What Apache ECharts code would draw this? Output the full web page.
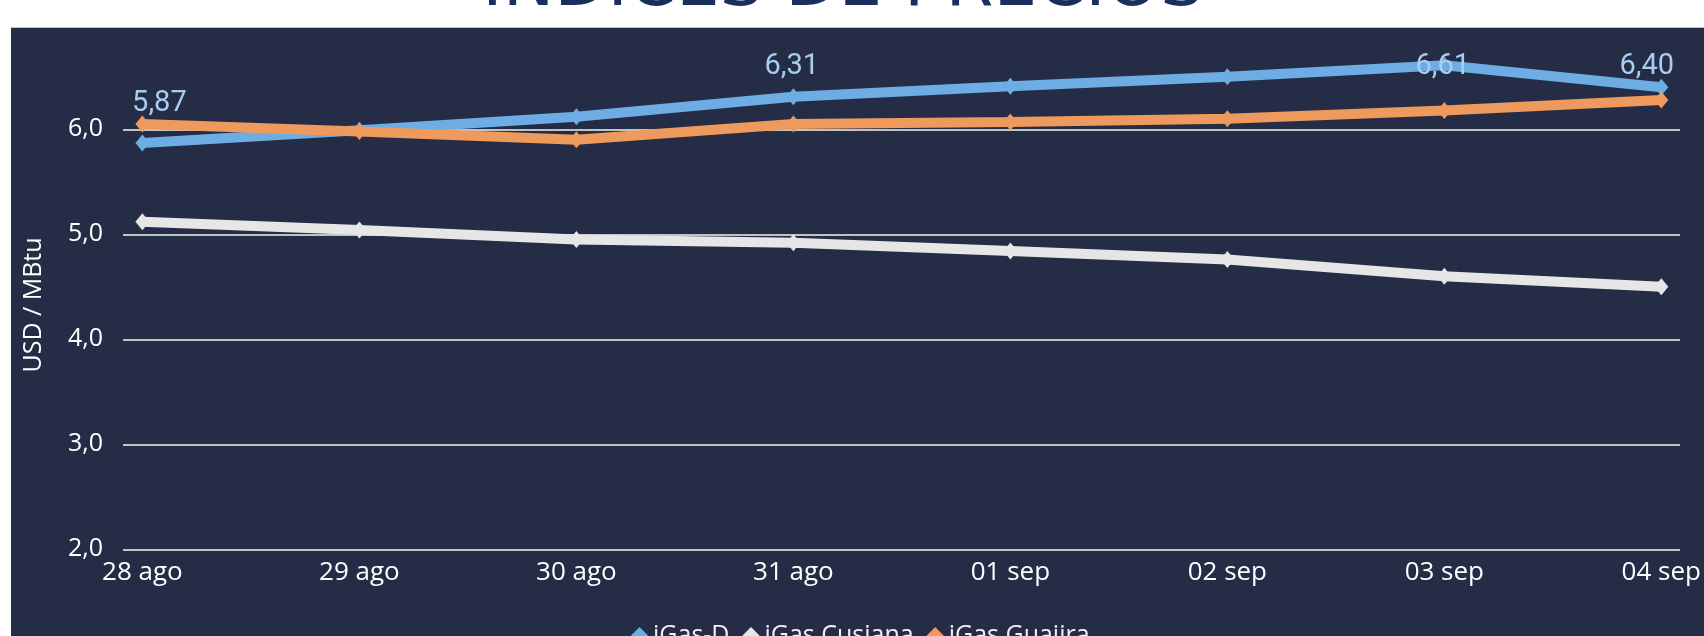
<!DOCTYPE html>
<html>
<head>
<meta charset="utf-8">
<script src="https://cdn.jsdelivr.net/npm/echarts@6/dist/echarts.min.js"></script>
<style>
  html, body { margin: 0; padding: 0; background: #ffffff; }
  #chart { width: 1704px; height: 636px; }
</style>
</head>
<body>
<div id="chart"></div>
<script>
// ---- data ----
const categories = ['28 ago', '29 ago', '30 ago', '31 ago', '01 sep', '02 sep', '03 sep', '04 sep'];
const seriesNames = ['iGas-D', 'iGas Cusiana', 'iGas Guajira'];
const igasD = [5.87, 5.99, 6.12, 6.31, 6.41, 6.50, 6.61, 6.40];
const igasCusiana = [5.12, 5.04, 4.95, 4.92, 4.84, 4.76, 4.60, 4.50];
const igasGuajira = [6.05, 5.98, 5.90, 6.05, 6.07, 6.10, 6.18, 6.28];
const labelledPoints = [0, 3, 6, 7]; // points of iGas-D that carry a value label
const yMin = 2, yMax = 7, yStep = 1;
const titleText = 'INDICES DE PRECIOS';
const yAxisTitle = 'USD / MBtu';

// ---- styles ----
const BG = '#252c46';
const colors = ['#6eade3', '#e6e6e6', '#ef9a5d'];
const labelOffsets = { 0: [17, -39], 3: [-1.5, -30], 6: [-1.6, 1.5], 7: [-14.5, -20.5] };
const comma = (v, d) => v.toFixed(d).replace('.', ',');

const gridTop = 24.3, gridBottom = 86.7;

function buildData(values, withLabels) {
  return values.map((v, i) => {
    if (withLabels && labelledPoints.indexOf(i) >= 0) {
      return {
        value: v,
        label: {
          show: true,
          position: 'inside',
          offset: labelOffsets[i] || [0, -20],
          formatter: p => comma(p.value, 2),
          color: '#a8cdef',
          fontFamily: 'Roboto',
          fontSize: 29
        }
      };
    }
    return v;
  });
}

const lineSeries = [igasD, igasCusiana, igasGuajira].map((vals, k) => ({
  name: seriesNames[k],
  type: 'line',
  xAxisIndex: 0,
  yAxisIndex: 0,
  data: buildData(vals, k === 0),
  symbol: 'diamond',
  symbolSize: [14, 17],
  showSymbol: true,
  lineStyle: { width: 10, color: colors[k] },
  itemStyle: { color: colors[k] },
  emphasis: { disabled: true },
  z: 2 + k
}));

const chart = echarts.init(document.getElementById('chart'), null, { renderer: 'canvas' });
chart.setOption({
  animation: false,
  backgroundColor: BG,
  grid: [
    { left: 142.4, right: 42.5, top: gridTop, bottom: gridBottom },
    { left: 123, right: 24, top: gridTop, bottom: gridBottom }
  ],
  xAxis: [
    {
      gridIndex: 0,
      type: 'category',
      boundaryGap: false,
      data: categories,
      axisLine: { show: false },
      axisTick: { show: false },
      splitLine: { show: false },
      axisLabel: {
        color: '#ffffff',
        fontFamily: 'Open Sans',
        fontSize: 26,
        margin: 10,
        interval: 0
      }
    },
    {
      gridIndex: 1,
      type: 'category',
      data: categories,
      show: false
    }
  ],
  yAxis: [
    {
      gridIndex: 0,
      type: 'value',
      min: yMin, max: yMax, interval: yStep,
      show: false
    },
    {
      gridIndex: 1,
      type: 'value',
      min: yMin, max: yMax, interval: yStep,
      axisLine: { show: false },
      axisTick: { show: false },
      splitLine: { show: true, lineStyle: { color: '#c2c2c2', width: 2 } },
      axisLabel: {
        color: '#ffffff',
        fontFamily: 'Open Sans',
        fontSize: 25,
        margin: 20,
        padding: [0, 0, 4, 0],
        showMaxLabel: false,
        formatter: v => comma(v, 1)
      }
    }
  ],
  legend: {
    data: seriesNames,
    icon: 'diamond',
    itemWidth: 17,
    itemHeight: 17,
    itemGap: 13,
    left: 626,
    top: 618,
    textStyle: { color: '#f2f2f2', fontFamily: 'Open Sans', fontSize: 25 }
  },
  graphic: [
    { type: 'rect', z: 100, shape: { x: 0, y: 0, width: 1704, height: 27 }, style: { fill: '#ffffff' } },
    { type: 'rect', z: 100, shape: { x: 0, y: 0, width: 11, height: 636 }, style: { fill: '#ffffff' } },
    { type: 'line', z: 101, shape: { x1: 11, y1: 27.5, x2: 1704, y2: 27.5 }, style: { stroke: '#c4c4c4', lineWidth: 1 } },
    {
      type: 'text', z: 102, x: 843, y: -13,
      style: { text: titleText, fill: '#1b2f5e', font: 'normal 69px "DejaVu Sans"', align: 'center', verticalAlign: 'middle' }
    },
    {
      type: 'text', z: 102, x: 33.6, y: 305, rotation: Math.PI / 2,
      style: { text: yAxisTitle, fill: '#ffffff', font: 'normal 25px "Open Sans"', align: 'center', verticalAlign: 'middle' }
    }
  ],
  series: lineSeries
});
</script>
</body>
</html>
